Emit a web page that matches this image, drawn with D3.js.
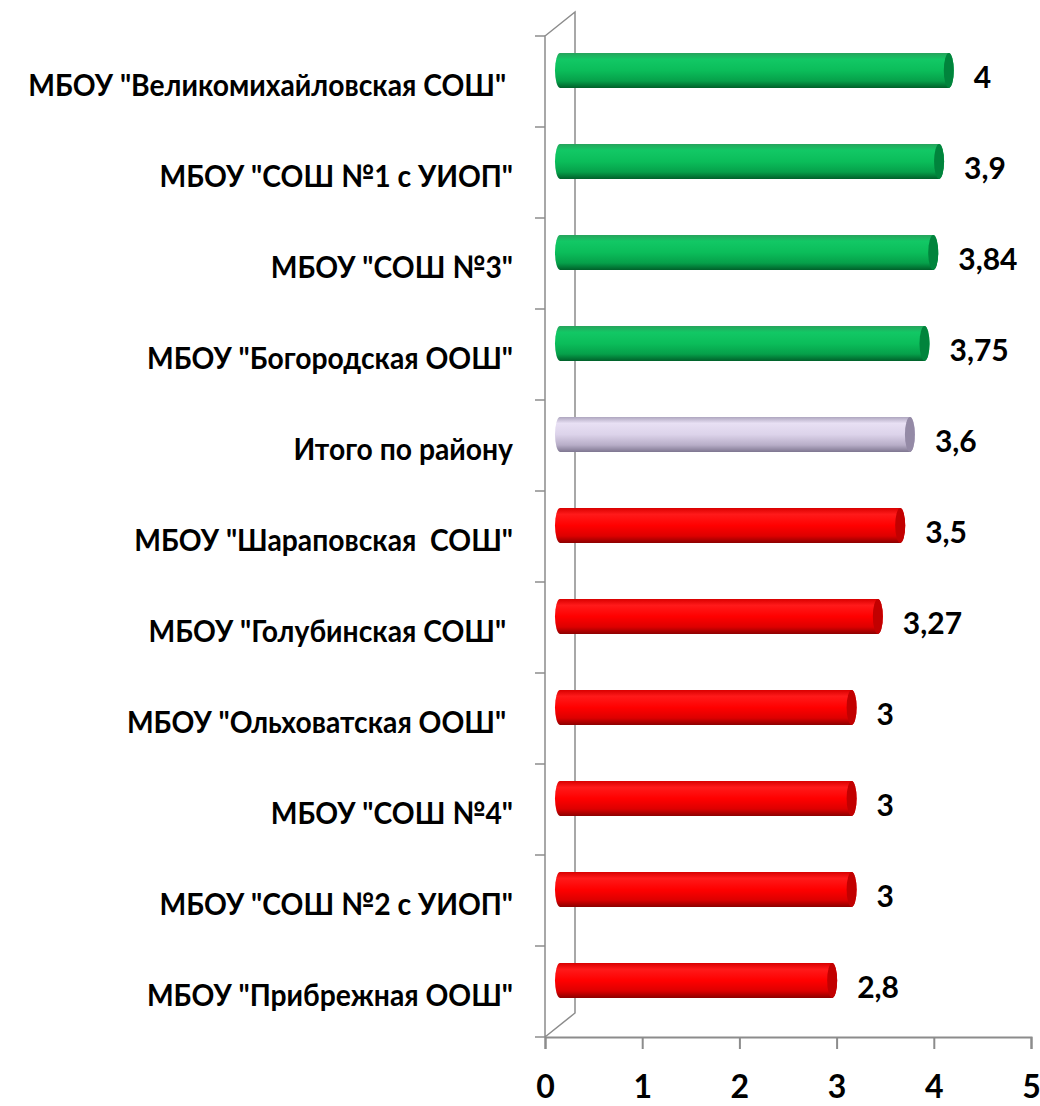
<!DOCTYPE html>
<html>
<head>
<meta charset="utf-8">
<script src="https://cdn.jsdelivr.net/npm/d3@7"></script>
<style>
  body { margin: 0; background: #fff; }
  text { font-family: Lato, "Open Sans", sans-serif; font-weight: bold; white-space: pre; }
</style>
</head>
<body>
<script>
// data, top to bottom
const schools = [
    "МБОУ \"Великомихайловская СОШ\" ",
    "МБОУ \"СОШ №1 с УИОП\"",
    "МБОУ \"СОШ №3\"",
    "МБОУ \"Богородская ООШ\"",
    "Итого по району",
    "МБОУ \"Шараповская  СОШ\"",
    "МБОУ \"Голубинская СОШ\" ",
    "МБОУ \"Ольховатская ООШ\" ",
    "МБОУ \"СОШ №4\"",
    "МБОУ \"СОШ №2 с УИОП\"",
    "МБОУ \"Прибрежная ООШ\""
];
const scores = [4, 3.9, 3.84, 3.75, 3.6, 3.5, 3.27, 3, 3, 3, 2.8];
const groups = ["good", "good", "good", "good", "total", "bad", "bad", "bad", "bad", "bad", "bad"];
const xTicks = [0, 1, 2, 3, 4, 5];

const width = 1040, height = 1106;
const plotLeft = 545, plotRight = 1031, plotTop = 36, plotBottom = 1037;
const depthX = 30, depthY = -24;     // 3d wall offset
const barX = 15, barY = -11;         // bars sit halfway into the depth
const barH = 35, capRx = 5;

const svg = d3.select("body").append("svg")
    .attr("width", width)
    .attr("height", height);

const x = d3.scaleLinear().domain([0, 5]).range([plotLeft, plotRight]);
const y = d3.scaleBand().domain(d3.range(schools.length)).range([plotTop, plotBottom]);

// gradients for the cylinders
const palette = {
    good:  { stops: ["#27a35c", "#12c865", "#0bbd5a", "#06a04a", "#00602a"], cap: "#01843c" },
    bad:   { stops: ["#d80000", "#ff1a1a", "#ff0000", "#dd0000", "#8c0000"], cap: "#c20000" },
    total: { stops: ["#aea6bf", "#e8e0f4", "#dcd3ea", "#b8aec8", "#7e7690"], cap: "#948aa6" }
};
const offsets = ["0%", "18%", "50%", "80%", "100%"];
const defs = svg.append("defs");
Object.entries(palette).forEach(([key, p]) => {
    const g = defs.append("linearGradient")
        .attr("id", "cyl-" + key)
        .attr("x1", 0).attr("x2", 0).attr("y1", 0).attr("y2", 1);
    g.selectAll("stop").data(p.stops).join("stop")
        .attr("offset", (d, i) => offsets[i])
        .attr("stop-color", d => d);
});

// walls
const axisColor = "#8c8c8c";
svg.append("path")
    .attr("fill", "none")
    .attr("stroke", axisColor)
    .attr("stroke-width", 1.5)
    .attr("d", `M${plotLeft},${plotBottom}L${plotLeft},${plotTop}L${plotLeft + depthX},${plotTop + depthY}L${plotLeft + depthX},${plotBottom + depthY}L${plotLeft},${plotBottom}`);

// category ticks on the left axis
svg.append("g")
    .selectAll("line")
    .data(d3.range(schools.length + 1))
    .join("line")
    .attr("x1", plotLeft - 10).attr("x2", plotLeft)
    .attr("y1", i => i < schools.length ? y(i) : plotBottom)
    .attr("y2", i => i < schools.length ? y(i) : plotBottom)
    .attr("stroke", axisColor)
    .attr("stroke-width", 1.5);

// x axis
const xAxis = d3.axisBottom(x).tickValues(xTicks).tickFormat(d3.format("d")).tickSize(12).tickPadding(26);
svg.append("g")
    .attr("transform", `translate(0,${plotBottom})`)
    .call(xAxis)
    .call(g => g.select(".domain").attr("stroke", axisColor).attr("stroke-width", 2))
    .call(g => g.selectAll("line").attr("stroke", axisColor).attr("stroke-width", 2))
    .call(g => g.selectAll("text")
        .attr("fill", "#000")
        .attr("font-size", 32)
        .attr("font-family", "Lato, sans-serif")
        .attr("font-weight", "bold"));

// bars
const bars = svg.append("g")
    .selectAll("g")
    .data(scores)
    .join("g")
    .attr("transform", (d, i) => `translate(${barX},${y(i) + y.bandwidth() / 2 + barY})`);

bars.append("path")
    .attr("fill", (d, i) => `url(#cyl-${groups[i]})`)
    .attr("d", d => {
        const x0 = x(0), x1 = x(d), r = barH / 2;
        return `M${x1},${-r}L${x0},${-r}A${capRx},${r} 0 0 0 ${x0},${r}L${x1},${r}A${capRx},${r} 0 0 0 ${x1},${-r}Z`;
    });

bars.append("ellipse")
    .attr("cx", d => x(d))
    .attr("cy", 0)
    .attr("rx", capRx)
    .attr("ry", barH / 2)
    .attr("fill", (d, i) => palette[groups[i]].cap);

// value labels
bars.append("text")
    .attr("x", d => x(d) + 25)
    .attr("y", 7)
    .attr("dy", "0.35em")
    .attr("font-size", 30)
    .attr("fill", "#000")
    .text(d => String(d).replace(".", ","));

// category labels
const labels = svg.append("g")
    .selectAll("text")
    .data(schools)
    .join("text")
    .attr("text-anchor", "end")
    .attr("x", 0)
    .attr("y", 0)
    .attr("dy", "0.35em")
    .attr("font-size", 31)
    .attr("fill", "#000")
    .text(d => d);

// squeeze the labels a little so the widest one spans like the original
const w0 = labels.nodes()[0].getComputedTextLength();
const spaceW = w0 - labels.nodes()[0].getSubStringLength(0, schools[0].length - 1);
const squeeze = 478 / (w0 - spaceW);
labels.attr("transform", (d, i) => `translate(513,${y(i) + y.bandwidth() / 2 + 4}) scale(${squeeze},1)`);
</script>
</body>
</html>
